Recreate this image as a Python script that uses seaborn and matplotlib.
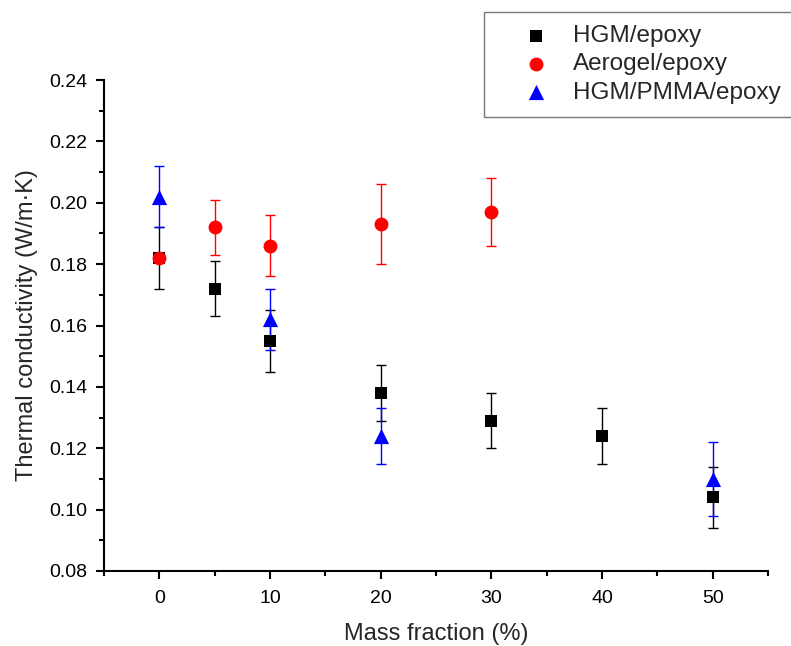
import matplotlib
matplotlib.use("Agg")
import matplotlib.pyplot as plt
import seaborn as sns
import pandas as pd
from matplotlib.ticker import MultipleLocator

# Data
hgm_x = [0, 5, 10, 20, 30, 40, 50]
hgm_y = [0.182, 0.172, 0.155, 0.138, 0.129, 0.124, 0.104]
hgm_err = [0.010, 0.009, 0.010, 0.009, 0.009, 0.009, 0.010]

aero_x = [0, 5, 10, 20, 30]
aero_y = [0.182, 0.192, 0.186, 0.193, 0.197]
aero_err = [0.0, 0.009, 0.010, 0.013, 0.011]

pmma_x = [0, 10, 20, 50]
pmma_y = [0.202, 0.162, 0.124, 0.110]
pmma_err = [0.010, 0.010, 0.009, 0.012]

series_names = ["HGM/epoxy", "Aerogel/epoxy", "HGM/PMMA/epoxy"]
colors = {"HGM/epoxy": "#000000", "Aerogel/epoxy": "#ff0000", "HGM/PMMA/epoxy": "#0000ff"}
markers = {"HGM/epoxy": "s", "Aerogel/epoxy": "o", "HGM/PMMA/epoxy": "^"}

df = pd.concat([
    pd.DataFrame({"x": hgm_x, "y": hgm_y, "err": hgm_err, "series": "HGM/epoxy"}),
    pd.DataFrame({"x": aero_x, "y": aero_y, "err": aero_err, "series": "Aerogel/epoxy"}),
    pd.DataFrame({"x": pmma_x, "y": pmma_y, "err": pmma_err, "series": "HGM/PMMA/epoxy"}),
], ignore_index=True)

sns.set_theme(style="ticks")
plt.rcParams['font.family'] = ['Liberation Sans', 'DejaVu Sans']

fig = plt.figure(figsize=(7.91, 6.46), dpi=100)
ax = fig.add_axes([0.1315, 0.1161, 0.8395, 0.760])

# error bars
for name in series_names:
    sub = df[df.series == name]
    ax.errorbar(sub.x, sub.y, yerr=sub.err, fmt="none", ecolor=colors[name],
                elinewidth=1.0, capsize=3.8, capthick=1.0, zorder=2)

sizes = {"HGM/epoxy": 85, "Aerogel/epoxy": 100, "HGM/PMMA/epoxy": 120}
for name in series_names:
    sub = df[df.series == name]
    sns.scatterplot(data=sub, x="x", y="y", ax=ax, color=colors[name],
                    marker=markers[name], s=sizes[name], edgecolor=colors[name],
                    linewidth=0, label=name, zorder=3)

ax.set_xlim(-5, 55)
ax.set_ylim(0.08, 0.24)
ax.xaxis.set_major_locator(MultipleLocator(10))
ax.xaxis.set_minor_locator(MultipleLocator(5))
ax.yaxis.set_major_locator(MultipleLocator(0.02))
ax.yaxis.set_minor_locator(MultipleLocator(0.01))
ax.yaxis.set_major_formatter(matplotlib.ticker.FormatStrFormatter("%.2f"))

for side in ["top", "right"]:
    ax.spines[side].set_visible(False)
for side in ["left", "bottom"]:
    ax.spines[side].set_linewidth(1.5)
    ax.spines[side].set_color("black")

ax.tick_params(which="major", direction="out", length=6, width=1.5, labelsize=14,
               colors="black")
ax.tick_params(which="minor", direction="out", length=3.5, width=1.5, colors="black")
ax.tick_params(axis="x", which="major", pad=8)
ax.tick_params(axis="y", which="major", pad=6)

ax.set_xlabel("Mass fraction (%)", fontsize=17, labelpad=11)
ax.set_ylabel("Thermal conductivity (W/m·K)", fontsize=17, labelpad=8)

leg = ax.legend(loc="upper left", bbox_to_anchor=(484/791, 1 - 12/646),
                bbox_transform=fig.transFigure, fontsize=17.5, frameon=True,
                fancybox=False, edgecolor="#555555", borderpad=0.55,
                handletextpad=-0.1, labelspacing=0.25, borderaxespad=0,
                handlelength=3.2, markerscale=1.0)
leg.get_frame().set_linewidth(1.0)

fig.savefig("out.png", dpi=100)
